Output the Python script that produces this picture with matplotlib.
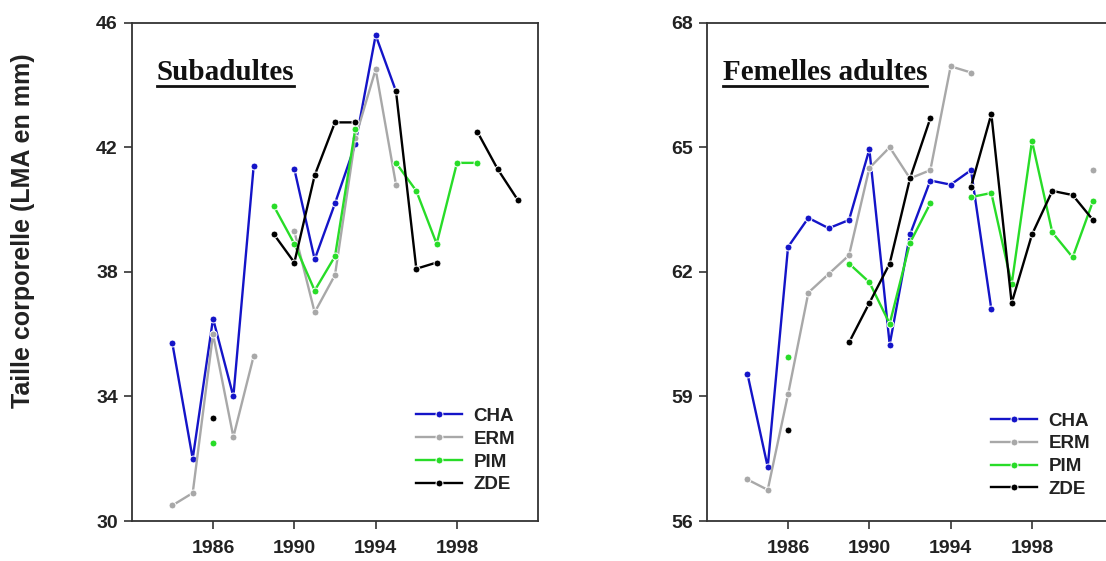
import numpy as np
import matplotlib

matplotlib.use("Agg")

import matplotlib.pyplot as plt

nan = np.nan

# Years shared by both panels
years = list(range(1984, 2002))

# Subadultes (left panel)
sub_cha = [35.7, 32.0, 36.5, 34.0, 41.4, nan, 41.3, 38.4, 40.2, 42.1, 45.6, 43.8, nan, nan, nan, nan, nan, nan]
sub_erm = [30.5, 30.9, 36.0, 32.7, 35.3, nan, 39.3, 36.7, 37.9, 42.3, 44.5, 40.8, nan, nan, nan, nan, nan, nan]
sub_pim = [nan, nan, 32.5, nan, nan, 40.1, 38.9, 37.4, 38.5, 42.6, nan, 41.5, 40.6, 38.9, 41.5, 41.5, nan, nan]
sub_zde = [nan, nan, 33.3, nan, nan, 39.2, 38.3, 41.1, 42.8, 42.8, nan, 43.8, 38.1, 38.3, nan, 42.5, 41.3, 40.3]

# Femelles adultes (right panel)
fem_cha = [59.55, 57.3, 62.6, 63.3, 63.05, 63.25, 64.95, 60.25, 62.9, 64.2, 64.1, 64.45, 61.1, nan, nan, nan, nan, nan]
fem_erm = [57.0, 56.75, 59.05, 61.5, 61.95, 62.4, 64.5, 65.0, 64.25, 64.45, 66.95, 66.8, nan, nan, nan, nan, nan, 64.45]
fem_pim = [nan, nan, 59.95, nan, nan, 62.2, 61.75, 60.75, 62.7, 63.65, nan, 63.8, 63.9, 61.7, 65.15, 62.95, 62.35, 63.7]
fem_zde = [nan, nan, 58.2, nan, nan, 60.3, 61.25, 62.2, 64.25, 65.7, nan, 64.05, 65.8, 61.25, 62.9, 63.95, 63.85, 63.25]

labels = ["CHA", "ERM", "PIM", "ZDE"]
colors = ["#1414c8", "#a8a8a8", "#28dc28", "#000000"]

x_ticks = [1986, 1990, 1994, 1998]
sub_yticks = [30, 34, 38, 42, 46]
fem_yticks = [56, 59, 62, 65, 68]

SANS = "Liberation Sans"
SERIF = "Liberation Serif"
SPINE = "#333333"


def draw_panel(ax, series, yticks, title, legend_top):
    """
    Draws one panel: four series, ticks, underlined title and legend.
    """
    for values, label, color in zip(series, labels, colors):
        ax.plot(years, values, color=color, lw=1.7, marker="o", ms=5,
                mfc=color, mec="white", mew=0.7, label=label)

    ax.set_xlim(1982, 2002)
    ax.set_ylim(yticks[0], yticks[-1])
    ax.set_xticks(x_ticks)
    ax.set_yticks(yticks)

    for side in ax.spines.values():
        side.set_color(SPINE)
        side.set_linewidth(1.3)
    ax.tick_params(direction="out", length=6, width=1.2, color=SPINE)
    ax.tick_params(axis="x", pad=8)
    ax.tick_params(axis="y", pad=4)
    for lab in ax.get_xticklabels() + ax.get_yticklabels():
        lab.set_fontfamily(SANS)
        lab.set_fontweight("bold")
        lab.set_fontsize(14)
        lab.set_color("#222222")

    # Underlined title
    t = ax.text(title[1], 0.885, title[0], transform=ax.transAxes,
                fontfamily=SERIF, fontweight="bold", fontsize=21,
                va="baseline", ha="left", color="#111111")
    fig = ax.figure
    fig.canvas.draw()
    bb = t.get_window_extent().transformed(ax.transAxes.inverted())
    ax.plot([bb.x0, bb.x1], [0.873, 0.873], transform=ax.transAxes,
            color="#111111", lw=2, clip_on=False)

    leg = ax.legend(loc="upper left", bbox_to_anchor=(0.70, legend_top),
                    frameon=False, borderpad=0, borderaxespad=0,
                    handlelength=2.45, handletextpad=0.6, labelspacing=0.3,
                    prop={"family": SANS, "weight": "bold", "size": 13.5})
    for txt in leg.get_texts():
        txt.set_color("#222222")


fig = plt.figure(figsize=(11.06, 5.61), dpi=100)
ax_left = fig.add_axes([0.1191, 0.0713, 0.3676, 0.8882])
ax_right = fig.add_axes([0.639, 0.0713, 0.3676, 0.8882])

draw_panel(ax_left, [sub_cha, sub_erm, sub_pim, sub_zde], sub_yticks,
           ("Subadultes", 0.0615), 0.227)
draw_panel(ax_right, [fem_cha, fem_erm, fem_pim, fem_zde], fem_yticks,
           ("Femelles adultes", 0.039), 0.2175)

fig.text(0.0208, 0.588, "Taille corporelle (LMA en mm)", rotation=90,
         ha="center", va="center", fontfamily=SANS, fontweight="bold",
         fontsize=18, color="#222222")

fig.savefig("out.png", dpi=100)
